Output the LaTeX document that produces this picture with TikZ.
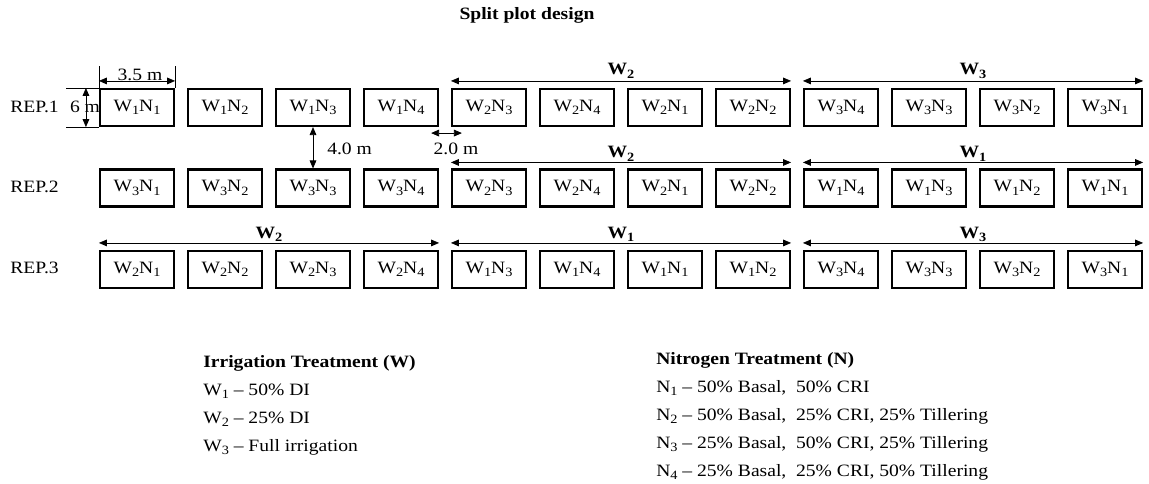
\documentclass[tikz,border=0pt]{standalone}
\usepackage{fontspec}
\setmainfont{Liberation Serif}[FakeStretch=1.13]
\usetikzlibrary{arrows.meta,calc}
\newcommand{\subdig}[1]{\raisebox{-0.45ex}{\fontsize{9.5}{10}\selectfont #1}}
\begin{document}
\begin{tikzpicture}[x=0.75pt,y=-0.75pt,
  plotbox/.style={draw,line width=1.6pt,minimum width=55.5pt,minimum height=27.75pt,inner sep=0pt,font=\fontsize{13}{15}\selectfont},
  dimarrow/.style={{Triangle[length=6pt,width=5pt]}-{Triangle[length=6pt,width=5pt]},line width=0.6pt},
  extline/.style={line width=0.6pt},
  txt/.style={font=\fontsize{13}{15}\selectfont,inner sep=0pt},
  wlab/.style={font=\fontsize{13}{15}\selectfont\bfseries,inner sep=0pt},
]
\useasboundingbox (0,0) rectangle (1149,483);

% title
\node[wlab] (title) at (527,15) {Split plot design};

% rep labels
\node[txt,anchor=west] (rep1) at (10,107) {REP.1};
\node[txt,anchor=west] (rep2) at (10,187) {REP.2};
\node[txt,anchor=west] (rep3) at (10,268) {REP.3};

% plots
\foreach \w/\n [count=\i] in {1/1,1/2,1/3,1/4,2/3,2/4,2/1,2/2,3/4,3/3,3/2,3/1}
  \node[plotbox] (r1c\i) at ({137+88*(\i-1)},107.5) {W\subdig{\w}N\subdig{\n}};
\foreach \w/\n [count=\i] in {3/1,3/2,3/3,3/4,2/3,2/4,2/1,2/2,1/4,1/3,1/2,1/1}
  \node[plotbox] (r2c\i) at ({137+88*(\i-1)},188) {W\subdig{\w}N\subdig{\n}};
\foreach \w/\n [count=\i] in {2/1,2/2,2/3,2/4,1/3,1/4,1/1,1/2,3/4,3/3,3/2,3/1}
  \node[plotbox] (r3c\i) at ({137+88*(\i-1)},269.5) {W\subdig{\w}N\subdig{\n}};

% main-plot arrows
\draw[dimarrow] ([yshift=5.25pt]r1c5.north west) -- ([yshift=5.25pt]r1c8.north east)
  node[wlab,midway,yshift=7.5pt] (lw2a) {W\subdig{2}};
\draw[dimarrow] ([yshift=5.25pt]r1c9.north west) -- ([yshift=5.25pt]r1c12.north east)
  node[wlab,midway,yshift=7.5pt] (lw3a) {W\subdig{3}};
\draw[dimarrow] ([yshift=4.5pt]r2c5.north west) -- ([yshift=4.5pt]r2c8.north east)
  node[wlab,midway,yshift=6.5pt] (lw2b) {W\subdig{2}};
\draw[dimarrow] ([yshift=4.5pt]r2c9.north west) -- ([yshift=4.5pt]r2c12.north east)
  node[wlab,midway,yshift=6.5pt] (lw1b) {W\subdig{1}};
\draw[dimarrow] ([yshift=5.25pt]r3c1.north west) -- ([yshift=5.25pt]r3c4.north east)
  node[wlab,midway,yshift=6.5pt] (lw2c) {W\subdig{2}};
\draw[dimarrow] ([yshift=5.25pt]r3c5.north west) -- ([yshift=5.25pt]r3c8.north east)
  node[wlab,midway,yshift=6.5pt] (lw1c) {W\subdig{1}};
\draw[dimarrow] ([yshift=5.25pt]r3c9.north west) -- ([yshift=5.25pt]r3c12.north east)
  node[wlab,midway,yshift=6.5pt] (lw3c) {W\subdig{3}};

% 3.5 m dimension
\draw[extline] (r1c1.north west) -- ++(0,-22);
\draw[extline] (r1c1.north east) -- ++(0,-22);
\draw[dimarrow] ([yshift=5.25pt]r1c1.north west) -- ([yshift=5.25pt]r1c1.north east);
\node[txt] (d35) at (140,75) {3.5 m};

% 6 m dimension
\draw[extline] (r1c1.north west) -- ++(-33,0);
\draw[extline] (r1c1.south west) -- ++(-33,0);
\draw[dimarrow] ([xshift=-9.75pt]r1c1.north west) -- ([xshift=-9.75pt]r1c1.south west);
\node[txt] (d6) at (85,107) {6 m};

% 4.0 m dimension
\draw[dimarrow] (r1c3.south) -- (r2c3.north);
\node[txt,anchor=west] (d40) at (327,149) {4.0 m};

% 2.0 m dimension
\coordinate (g1) at ([xshift=-6pt,yshift=-4.5pt]r1c4.south east);
\coordinate (g2) at ([xshift=8.25pt,yshift=-4.5pt]r1c5.south west);
\draw[dimarrow] (g1) -- (g2);
\node[txt] (d20) at (456,149) {2.0 m};

% legends
\node[wlab,anchor=base west] (irrT) at (203,367) {Irrigation Treatment (W)};
\node[txt,anchor=base west] (irr1) at (203,395) {W\subdig{1} – 50\% DI};
\node[txt,anchor=base west] (irr2) at (203,423) {W\subdig{2} – 25\% DI};
\node[txt,anchor=base west] (irr3) at (203,451) {W\subdig{3} – Full irrigation};

\node[wlab,anchor=base west] (nitT) at (656,364) {Nitrogen Treatment (N)};
\node[txt,anchor=base west] (nit1) at (656,392) {N\subdig{1} – 50\% Basal,~ 50\% CRI};
\node[txt,anchor=base west] (nit2) at (656,420) {N\subdig{2} – 50\% Basal,~ 25\% CRI, 25\% Tillering};
\node[txt,anchor=base west] (nit3) at (656,448) {N\subdig{3} – 25\% Basal,~ 50\% CRI, 25\% Tillering};
\node[txt,anchor=base west] (nit4) at (656,476) {N\subdig{4} – 25\% Basal,~ 25\% CRI, 50\% Tillering};
\end{tikzpicture}
\end{document}
